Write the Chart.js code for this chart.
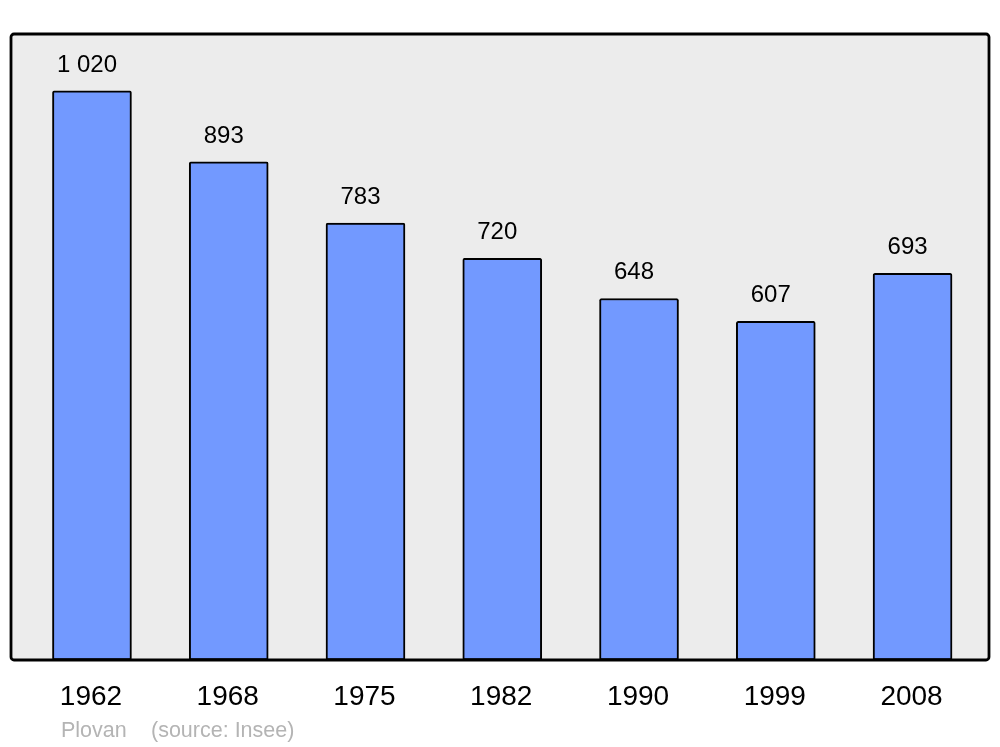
<!DOCTYPE html>
<html>
<head>
<meta charset="utf-8">
<script src="https://cdn.jsdelivr.net/npm/chart.js@4/dist/chart.umd.min.js"></script>
<style>
  html, body { margin: 0; padding: 0; background: #ffffff; }
  #wrap { width: 1000px; height: 747px; }
</style>
</head>
<body>
<div id="wrap"><canvas id="myChart" width="1000" height="747"></canvas></div>
<script>
const years = ['1962', '1968', '1975', '1982', '1990', '1999', '2008'];
const population = [1020, 893, 783, 720, 648, 607, 693];
const valueLabels = ['1 020', '893', '783', '720', '648', '607', '693'];
const commune = 'Plovan';
const sourceText = '(source: Insee)';

const FONT = '"Liberation Sans", Arial, sans-serif';

// fond gris + cadre noir
const framePlugin = {
  id: 'frame',
  beforeDatasetsDraw(chart) {
    const { ctx, chartArea: a } = chart;
    ctx.save();
    ctx.fillStyle = '#ececec';
    ctx.beginPath();
    ctx.roundRect(a.left, a.top, a.right - a.left, a.bottom - a.top, 3);
    ctx.fill();
    ctx.restore();
  },
  afterDatasetsDraw(chart) {
    const { ctx, chartArea: a } = chart;
    ctx.save();
    ctx.strokeStyle = '#000000';
    ctx.lineWidth = 2.8;
    ctx.beginPath();
    ctx.roundRect(a.left, a.top, a.right - a.left, a.bottom - a.top, 3);
    ctx.stroke();
    ctx.restore();
  }
};

// valeurs au-dessus des barres, années et source en bas
const labelsPlugin = {
  id: 'labels',
  afterDraw(chart) {
    const { ctx, chartArea: a } = chart;
    const xScale = chart.scales.x;
    const meta = chart.getDatasetMeta(0);
    ctx.save();
    ctx.textAlign = 'center';
    ctx.textBaseline = 'alphabetic';
    ctx.fillStyle = '#000000';
    ctx.font = '24px ' + FONT;
    meta.data.forEach((bar, i) => {
      ctx.fillText(valueLabels[i], bar.x - 5, bar.y - 19);
    });
    ctx.font = '28px ' + FONT;
    years.forEach((y, i) => {
      ctx.fillText(y, xScale.getPixelForValue(i) - 1, a.bottom + 45);
    });
    ctx.textAlign = 'left';
    ctx.fillStyle = '#b4b4b4';
    ctx.font = '21.5px ' + FONT;
    ctx.fillText(commune, 61, 737);
    ctx.fillText(sourceText, 151, 737);
    ctx.restore();
  }
};

const ctx = document.getElementById('myChart').getContext('2d');
new Chart(ctx, {
  type: 'bar',
  data: {
    datasets: [{
      data: population.map((v, i) => ({ x: i, y: v })),
      backgroundColor: '#7299ff',
      borderColor: '#000000',
      borderWidth: 2,
      borderRadius: 2,
      borderSkipped: false,
      barThickness: 79
    }]
  },
  options: {
    responsive: false,
    animation: false,
    layout: { padding: { left: 11, right: 11, top: 34, bottom: 87 } },
    plugins: {
      legend: { display: false },
      tooltip: { enabled: false }
    },
    scales: {
      x: { type: 'linear', display: false, offset: false, min: -0.592, max: 6.559 },
      y: { display: false, min: 0, max: 1122 }
    }
  },
  plugins: [framePlugin, labelsPlugin]
});
</script>
</body>
</html>
